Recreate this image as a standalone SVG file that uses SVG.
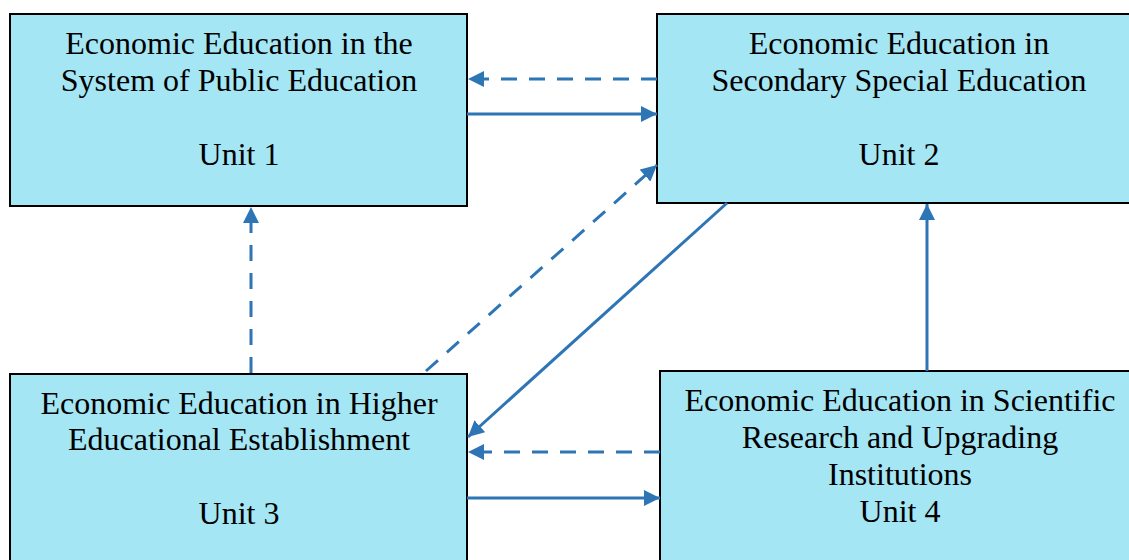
<svg xmlns="http://www.w3.org/2000/svg" width="1129" height="560" viewBox="0 0 1129 560">
<style>
.box{fill:#A5E6F5;stroke:#000;stroke-width:2}
.t{font-family:"Liberation Serif","Times New Roman",serif;font-size:32px;fill:#000;text-anchor:middle}
.c{stroke:#2E75B6;stroke-width:3;fill:none;marker-end:url(#ah)}
.d{stroke-dasharray:16 12}
</style>
<defs>
<marker id="ah" markerUnits="userSpaceOnUse" markerWidth="18" markerHeight="16" refX="16" refY="8" orient="auto">
<path d="M0,0 L16,8 L0,16 Z" fill="#2E75B6"/>
</marker>
</defs>
<rect width="1129" height="560" fill="#fff"/>
<g id="unit1">
<rect class="box" x="10" y="14" width="457" height="192"/>
<text class="t" x="239" y="54">Economic Education in the</text>
<text class="t" x="239" y="91">System of Public Education</text>
<text class="t" x="239" y="165">Unit 1</text>
</g>
<g id="unit2">
<rect class="box" x="657" y="14" width="480" height="189"/>
<text class="t" x="899" y="54">Economic Education in</text>
<text class="t" x="899" y="91">Secondary Special Education</text>
<text class="t" x="899" y="165">Unit 2</text>
</g>
<g id="unit3">
<rect class="box" x="10" y="374" width="457" height="200"/>
<text class="t" x="239" y="414">Economic Education in Higher</text>
<text class="t" x="239" y="450">Educational Establishment</text>
<text class="t" x="239" y="524">Unit 3</text>
</g>
<g id="unit4">
<rect class="box" x="660" y="371" width="480" height="200"/>
<text class="t" x="900" y="411">Economic Education in Scientific</text>
<text class="t" x="900" y="448">Research and Upgrading</text>
<text class="t" x="900" y="485">Institutions</text>
<text class="t" x="900" y="522">Unit 4</text>
</g>
<g id="connectors">
<line class="c d" x1="657" y1="79" x2="468" y2="79"/>
<line class="c" x1="467" y1="114" x2="657" y2="114"/>
<line class="c d" x1="426" y1="371" x2="657" y2="165"/>
<line class="c" x1="727" y1="203" x2="468" y2="437"/>
<line class="c d" x1="660" y1="452" x2="468" y2="452"/>
<line class="c" x1="467" y1="498" x2="660" y2="498"/>
<line class="c d" x1="251" y1="373" x2="251" y2="207"/>
<line class="c" x1="927" y1="371" x2="927" y2="204"/>
</g>
</svg>
